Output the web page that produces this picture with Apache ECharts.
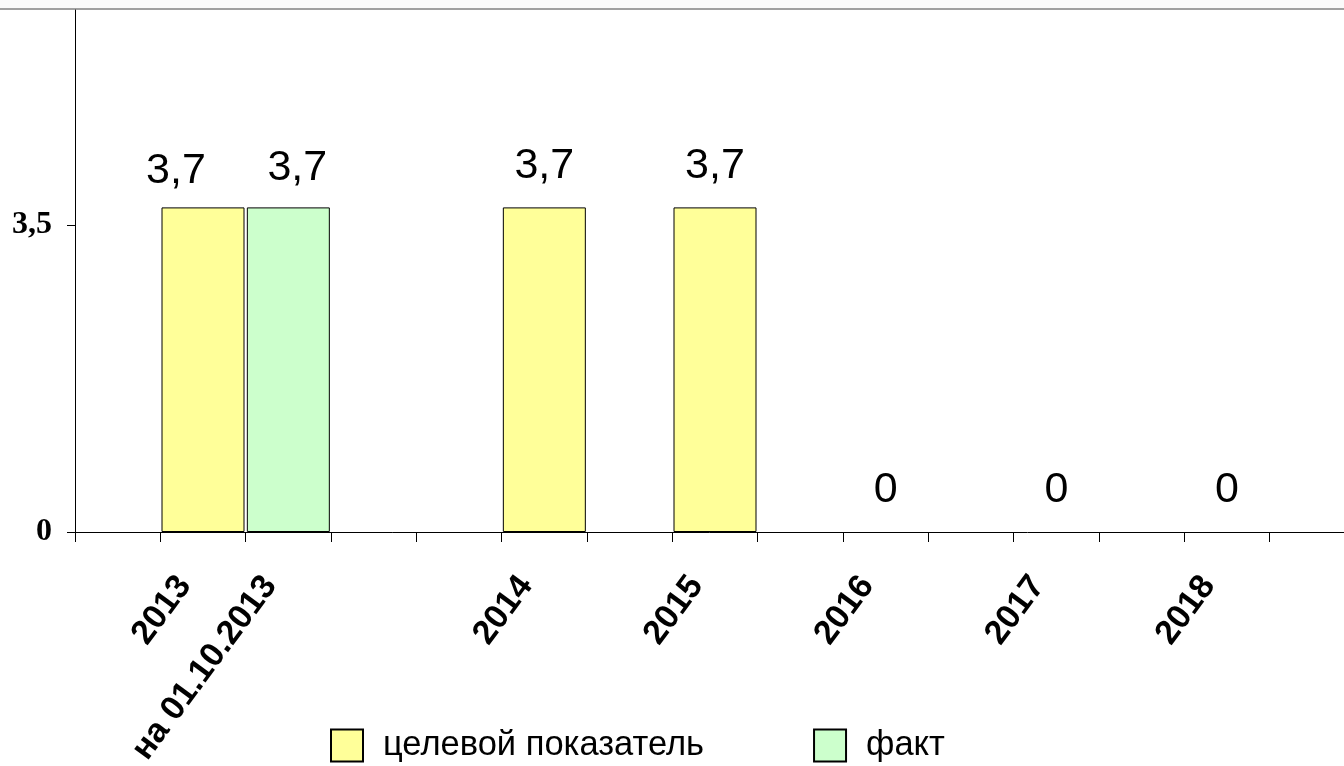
<!DOCTYPE html>
<html>
<head>
<meta charset="utf-8">
<script src="https://cdn.jsdelivr.net/npm/echarts@6/dist/echarts.min.js"></script>
<style>
html,body{margin:0;padding:0;background:#fff;}
#chart{width:1344px;height:766px;}
</style>
</head>
<body>
<div id="chart"></div>
<script>
// Category slots along the x axis (empty slots are spacing categories of the original chart)
const categories = ['', '2013', 'на 01.10.2013', '', '', '2014', '', '2015', '', '2016', '', '2017', '', '2018', ''];
// Series values (null = no bar in that slot)
const targetValues = [null, 3.7, null, null, null, 3.7, null, 3.7, null, 0, null, 0, null, 0, null];
const factValues   = [null, null, 3.7, null, null, null, null, null, null, null, null, null, null, null, null];
const seriesNames = ['целевой показатель', 'факт'];
const yTicks = [0, 3.5];

// label nudges (style only), keyed by slot index
const targetLabelNudge = {1: [-27, 5]};
const factLabelNudge = {2: [9, 2]};

const FONT = "'Liberation Sans', Arial, sans-serif";
const fmt = v => String(v).replace('.', ',');

function buildData(values, nudges) {
  return values.map((v, i) => {
    if (v === null) return v;
    const item = {value: v};
    if (nudges[i]) item.label = {offset: nudges[i]};
    if (v === 0) item.itemStyle = {borderWidth: 0};
    return item;
  });
}

const chart = echarts.init(document.getElementById('chart'), null, {renderer: 'canvas'});
const labelStyle = {
  show: true,
  position: 'top',
  distance: 20,
  fontFamily: FONT,
  fontSize: 43,
  color: '#000',
  formatter: p => fmt(p.value)
};
chart.setOption({
  animation: false,
  backgroundColor: '#fff',
  graphic: [
    {type: 'rect', shape: {x: 0, y: 0, width: 1344, height: 8}, style: {fill: '#fafafa'}, silent: true},
    {type: 'line', shape: {x1: 0, y1: 9, x2: 1344, y2: 9}, style: {stroke: '#a0a0a0', lineWidth: 2}, silent: true}
  ],
  grid: {left: 75, width: 1280, top: 10, height: 522, containLabel: false, outerBoundsMode: 'none'},
  legend: {
    data: seriesNames,
    left: 330,
    top: 728,
    padding: 0,
    icon: 'rect',
    itemWidth: 32,
    itemHeight: 32,
    itemGap: 109,
    itemStyle: {borderColor: '#000', borderWidth: 2},
    textStyle: {fontFamily: FONT, fontSize: 34.5, color: '#000', padding: [0, 0, 0, 15], lineHeight: 32}
  },
  xAxis: {
    type: 'category',
    data: categories,
    boundaryGap: true,
    axisLine: {show: true, lineStyle: {color: '#000', width: 1}},
    axisTick: {show: true, interval: 0, length: 10, lineStyle: {color: '#000', width: 1}},
    axisLabel: {
      interval: 0,
      rotate: 53.5,
      margin: 23,
      padding: [0, 31, 0, 0],
      fontFamily: FONT,
      fontWeight: 'bold',
      fontSize: 34,
      color: '#000'
    },
    splitLine: {show: false}
  },
  yAxis: {
    type: 'value',
    min: 0,
    max: 5.95,
    interval: 3.5,
    axisLine: {show: true, lineStyle: {color: '#000', width: 1}},
    axisTick: {show: true, length: 8, customValues: yTicks, lineStyle: {color: '#000', width: 1}},
    axisLabel: {
      customValues: yTicks,
      margin: 23,
      fontFamily: "'Liberation Serif', 'Times New Roman', serif",
      fontWeight: 'bold',
      fontSize: 32,
      color: '#000',
      formatter: v => fmt(v)
    },
    splitLine: {show: false}
  },
  series: [
    {
      name: seriesNames[0],
      type: 'bar',
      data: buildData(targetValues, targetLabelNudge),
      barWidth: 83,
      barGap: '-100%',
      itemStyle: {color: '#ffff99', borderColor: '#000', borderWidth: 1},
      label: labelStyle
    },
    {
      name: seriesNames[1],
      type: 'bar',
      data: buildData(factValues, factLabelNudge),
      barWidth: 83,
      barGap: '-100%',
      itemStyle: {color: '#ccffcc', borderColor: '#000', borderWidth: 1},
      label: labelStyle
    }
  ]
});
</script>
</body>
</html>
